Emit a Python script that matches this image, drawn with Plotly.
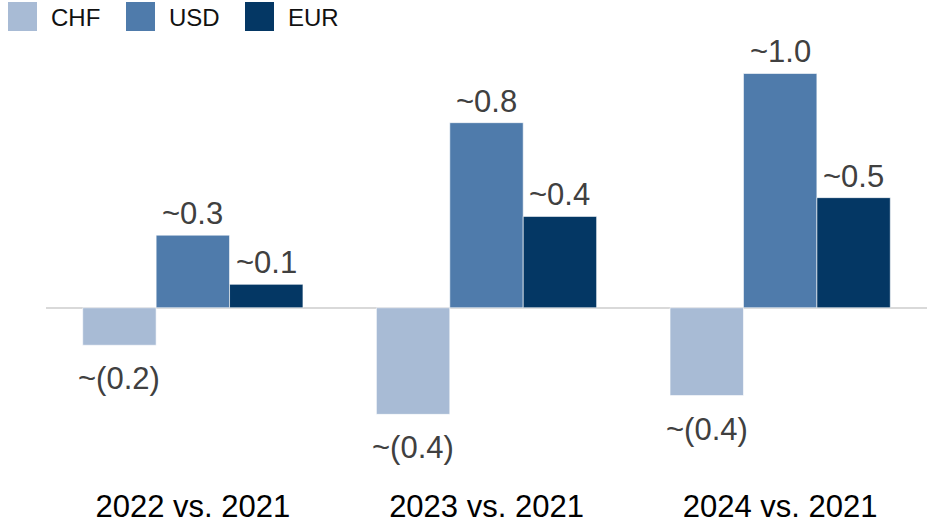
import plotly.graph_objects as go

categories = ["2022 vs. 2021", "2023 vs. 2021", "2024 vs. 2021"]
series_names = ["CHF", "USD", "EUR"]
chf_values = [-0.16, -0.455, -0.375]
usd_values = [0.31, 0.79, 1.0]
eur_values = [0.10, 0.39, 0.47]
chf_labels = ["~(0.2)", "~(0.4)", "~(0.4)"]
usd_labels = ["~0.3", "~0.8", "~1.0"]
eur_labels = ["~0.1", "~0.4", "~0.5"]

colors = ["#A8BBD5", "#4F7BAB", "#043764"]
values = [chf_values, usd_values, eur_values]
labels = [chf_labels, usd_labels, eur_labels]

FONT = "Liberation Sans, Arial, Helvetica, sans-serif"
BARGAP = 0.25
bar_w = (1 - BARGAP) / 3

FIG_W, FIG_H = 927, 523
L, T, W, H = 46, 36, 881, 417

fig = go.Figure()
for name, vals, col in zip(series_names, values, colors):
    fig.add_trace(go.Bar(
        x=categories, y=vals, name=name,
        marker=dict(color=col, line=dict(color="rgba(255,255,255,0.6)", width=1)),
        showlegend=False, hoverinfo="skip",
    ))

annotations = []
for j, (vals, labs) in enumerate(zip(values, labels)):
    for i, (v, t) in enumerate(zip(vals, labs)):
        pos = v >= 0
        annotations.append(dict(
            x=i + (j - 1) * bar_w, y=v, xref="x", yref="y", text=t,
            showarrow=False, yanchor="bottom" if pos else "top",
            yshift=2 if pos else -14,
            font=dict(family=FONT, size=31, color="#404040"),
        ))

def px_x(p):
    return (p - L) / W
def px_y(p):
    return (T + H - p) / H

shapes = []
legend_x = [8, 126, 245]
for name, col, lx in zip(series_names, colors, legend_x):
    shapes.append(dict(type="rect", xref="paper", yref="paper",
                       x0=px_x(lx), x1=px_x(lx + 29), y0=px_y(31), y1=px_y(2),
                       fillcolor=col, line=dict(width=0)))
    annotations.append(dict(xref="paper", yref="paper", x=px_x(lx + 41), y=px_y(17),
                            xanchor="left", yanchor="middle", text=name, showarrow=False,
                            font=dict(family=FONT, size=24, color="#111111")))

fig.update_layout(
    width=FIG_W, height=FIG_H,
    margin=dict(l=L, r=FIG_W - L - W, t=T, b=FIG_H - T - H, autoexpand=False),
    paper_bgcolor="white", plot_bgcolor="white",
    barmode="group", bargap=BARGAP, bargroupgap=0,
    shapes=shapes, annotations=annotations,
    xaxis=dict(showgrid=False, showline=False, ticks="", ticklabelstandoff=32,
               automargin=False,
               tickfont=dict(family=FONT, size=31, color="#000000")),
    yaxis=dict(range=[-0.62, 1.16], showgrid=False, showticklabels=False,
               automargin=False,
               zeroline=True, zerolinecolor="#D9D9D9", zerolinewidth=2, showline=False),
)

fig.write_html("out.html", config={"displayModeBar": False},
               post_script="document.body.style.margin='0px';")
